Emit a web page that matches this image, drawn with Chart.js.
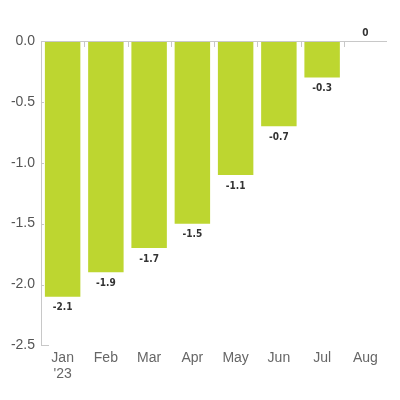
<!DOCTYPE html>
<html><head><meta charset="utf-8">
<script src="https://cdn.jsdelivr.net/npm/chart.js@4"></script>
<style>html,body{margin:0;padding:0;background:#fff}#w{width:400px;height:400px}</style>
</head><body><div id="w"><canvas id="c" width="400" height="400"></canvas></div>
<script>
const categories = [['Jan', "'23"], 'Feb', 'Mar', 'Apr', 'May', 'Jun', 'Jul', 'Aug'];
const values = [-2.1, -1.9, -1.7, -1.5, -1.1, -0.7, -0.3, 0];
const valueLabels = ['-2.1', '-1.9', '-1.7', '-1.5', '-1.1', '-0.7', '-0.3', '0'];
const yTicks = [0, -0.5, -1.0, -1.5, -2.0, -2.5];

const decor = {
  id: 'decor',
  afterDatasetsDraw(chart) {
    const ctx = chart.ctx, x = chart.scales.x, y = chart.scales.y, ca = chart.chartArea;
    const y0 = y.getPixelForValue(0);
    ctx.save();
    ctx.strokeStyle = '#c8c8c8';
    ctx.lineWidth = 1;
    ctx.beginPath();
    ctx.moveTo(ca.left, Math.round(y0) + 0.5);
    ctx.lineTo(ca.right, Math.round(y0) + 0.5);
    const n = categories.length;
    for (let i = 1; i < n; i++) {
      const xp = Math.round((x.getPixelForValue(i - 1) + x.getPixelForValue(i)) / 2) + 0.5;
      ctx.moveTo(xp, y0);
      ctx.lineTo(xp, y0 + 6);
    }
    const yb = Math.round(y.getPixelForValue(-2.5)) + 0.5;
    ctx.moveTo(ca.left, yb);
    ctx.lineTo(ca.left + 8, yb);
    yTicks.forEach(v => {
      if (v === 0 || v === -2.5) return;
      const yp = Math.round(y.getPixelForValue(v)) + 0.5;
      ctx.moveTo(ca.left, yp);
      ctx.lineTo(ca.left + 3, yp);
    });
    ctx.stroke();
    const meta = chart.getDatasetMeta(0);
    ctx.fillStyle = '#333';
    ctx.font = 'bold 10px "DejaVu Sans Condensed", "Liberation Sans Narrow", sans-serif';
    ctx.textAlign = 'center';
    ctx.textBaseline = 'middle';
    meta.data.forEach((bar, i) => {
      const v = values[i];
      const yp = v === 0 ? bar.y - 8 : bar.y + 11;
      ctx.fillText(valueLabels[i], bar.x, yp);
    });
    ctx.restore();
  }
};

new Chart(document.getElementById('c'), {
  type: 'bar',
  data: {
    labels: categories,
    datasets: [{ data: values, backgroundColor: '#bdd630', barPercentage: 0.82, categoryPercentage: 1.0 }]
  },
  options: {
    responsive: false,
    animation: false,
    devicePixelRatio: 1,
    layout: { padding: { top: 41, right: 13, left: 0, bottom: 13 } },
    plugins: { legend: { display: false }, tooltip: { enabled: false } },
    scales: {
      x: {
        grid: { display: false, drawTicks: false },
        border: { display: false },
        ticks: { color: '#666', font: { family: 'Liberation Sans', size: 14 }, padding: 4, maxRotation: 0 }
      },
      y: {
        min: -2.5, max: 0,
        afterBuildTicks(s) { s.ticks = yTicks.map(v => ({ value: v })); },
        afterFit(s) { s.width = 41; },
        grid: { display: false, drawTicks: false },
        border: { display: true, color: '#c8c8c8' },
        ticks: { color: '#555', font: { family: 'Liberation Sans', size: 14 }, padding: 6,
          callback: v => Number(v).toFixed(1) }
      }
    }
  },
  plugins: [decor]
});
</script></body></html>
